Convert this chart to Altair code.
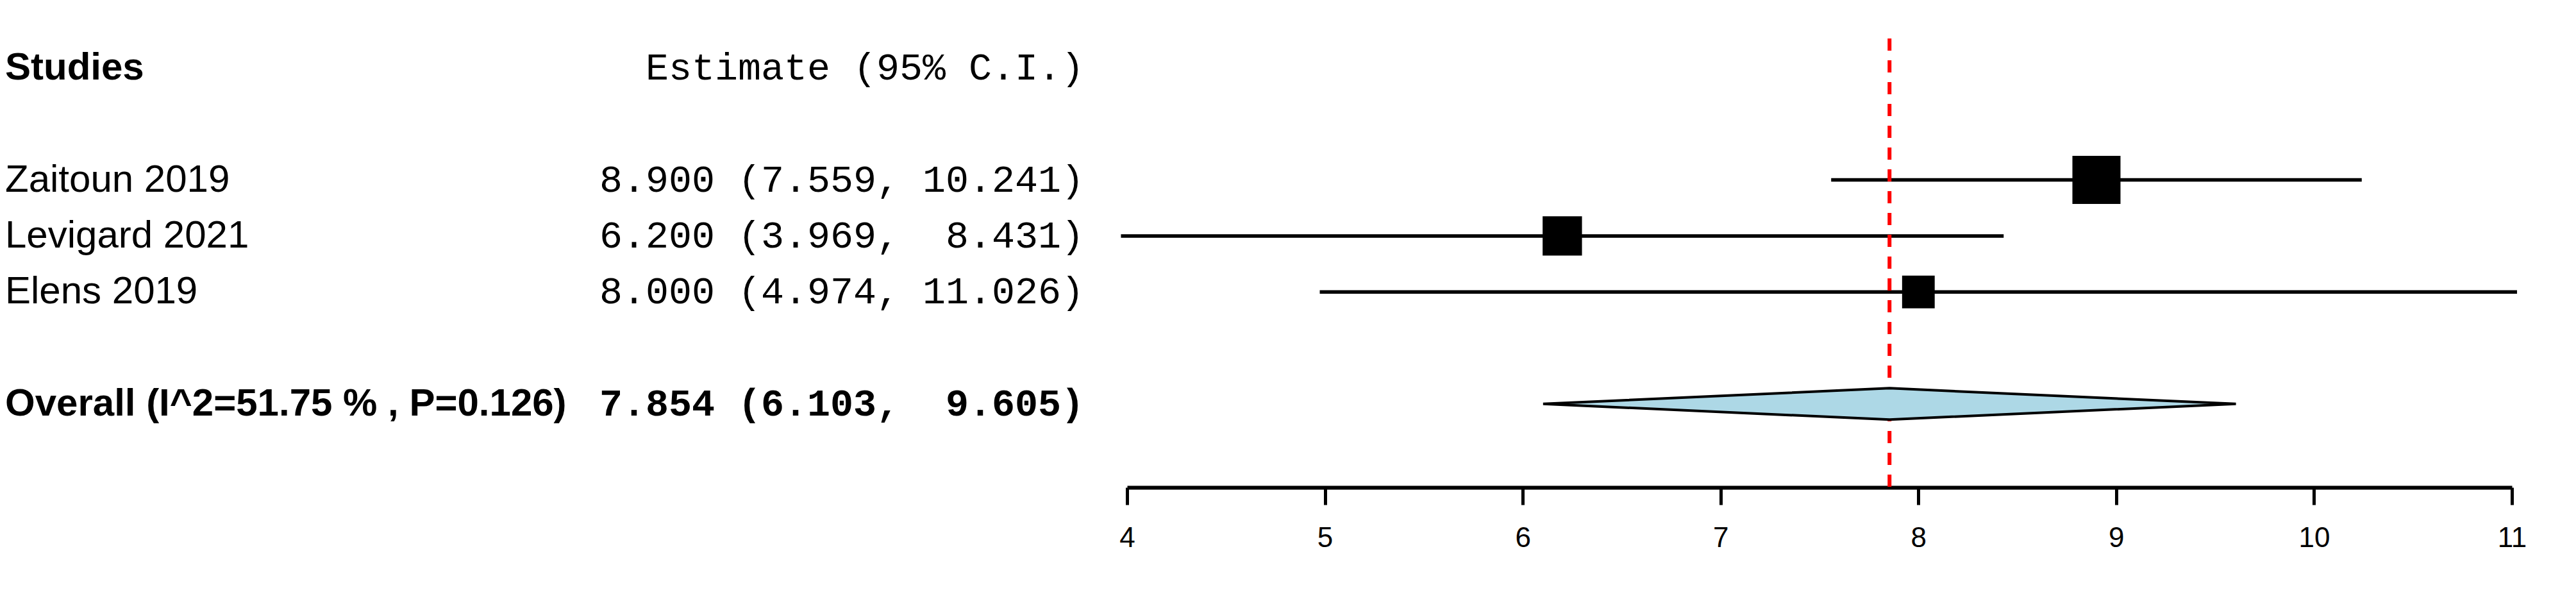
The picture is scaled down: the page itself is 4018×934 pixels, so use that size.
import altair as alt
import pandas as pd

# ---- data ----
studies = ["Zaitoun 2019", "Levigard 2021", "Elens 2019"]
estimates = [8.900, 6.200, 8.000]
lowers = [7.559, 3.969, 4.974]
uppers = [10.241, 8.431, 11.026]
weights = [1.0, 0.67, 0.46]          # relative (random-effects) weights -> square area
study_rows = [2, 3, 4]

overall_label = "Overall (I^2=51.75 % , P=0.126)"
overall_est = 7.854
overall_lo = 6.103
overall_hi = 9.605
overall_row = 6

header_left = "Studies"
header_right = "Estimate (95% C.I.)"
header_row = 0

x_ticks = [4, 5, 6, 7, 8, 9, 10, 11]

# ---- layout constants ----
W, H = 4000, 752
X_RANGE = [1750, 3910]
Y_DOMAIN = [-1.1226, 7.4914]
LINE_TOP = -0.527
DIAMOND_HALF = 0.28
NAME_X = 0
EST_X = 1683
FS = 60

def mono(s):
    return s.replace(" ", "\u00a0")

def fmt(e, l, u):
    return mono(f"{e:.3f} ({l:.3f}, {u:6.3f})")

xs = alt.Scale(domain=[4, 11], range=X_RANGE)
ys = alt.Scale(domain=Y_DOMAIN, range=[0, H])

df = pd.DataFrame({
    "study": studies, "est": estimates, "lo": lowers, "hi": uppers,
    "w": weights, "row": study_rows,
    "txt": [fmt(e, l, u) for e, l, u in zip(estimates, lowers, uppers)],
})

ci = alt.Chart(df).mark_rule(color="black", strokeWidth=5.5).encode(
    x=alt.X("lo:Q", scale=xs, axis=alt.Axis(
        values=x_ticks, format="d", title=None, grid=False, orient="bottom",
        domainColor="black", domainWidth=6, tickColor="black", tickWidth=5,
        tickSize=27, labelFont="Liberation Sans", labelFontSize=44,
        labelColor="black", labelPadding=30, labelFlush=False)),
    x2="hi:Q",
    y=alt.Y("row:Q", scale=ys, axis=None),
)

squares = alt.Chart(df).mark_square(color="black", opacity=1, filled=True).encode(
    x=alt.X("est:Q", scale=xs),
    y=alt.Y("row:Q", scale=ys),
    size=alt.Size("w:Q", scale=alt.Scale(domain=[0, 1], range=[0, 5625]), legend=None),
)

diamond_df = pd.DataFrame({
    "x": [overall_lo, overall_est, overall_hi],
    "y": [overall_row, overall_row - DIAMOND_HALF, overall_row],
    "y2": [overall_row, overall_row + DIAMOND_HALF, overall_row],
})
diamond = alt.Chart(diamond_df).mark_area(
    fill="#ADD8E6", stroke="black", strokeWidth=4, orient="vertical", opacity=1
).encode(
    x=alt.X("x:Q", scale=xs),
    y=alt.Y("y:Q", scale=ys),
    y2="y2:Q",
)

ref_df = pd.DataFrame({"x": [overall_est], "y": [LINE_TOP], "y2": [Y_DOMAIN[1]]})
refline = alt.Chart(ref_df).mark_rule(color="#FF0000", strokeWidth=6, strokeDash=[19, 15]).encode(
    x=alt.X("x:Q", scale=xs),
    y=alt.Y("y:Q", scale=ys),
    y2="y2:Q",
)

names = alt.Chart(df).mark_text(
    align="left", baseline="middle", font="Liberation Sans", fontSize=FS, color="black"
).encode(x=alt.value(NAME_X), y=alt.Y("row:Q", scale=ys), text="study:N")

vals = alt.Chart(df).mark_text(
    align="right", baseline="middle", font="Liberation Mono", fontSize=FS, color="black"
).encode(x=alt.value(EST_X), y=alt.Y("row:Q", scale=ys), text="txt:N")

bold_df = pd.DataFrame({"t": [header_left, overall_label], "row": [header_row, overall_row]})
bold_names = alt.Chart(bold_df).mark_text(
    align="left", baseline="middle", font="Liberation Sans", fontSize=FS,
    fontWeight="bold", color="black"
).encode(x=alt.value(NAME_X), y=alt.Y("row:Q", scale=ys), text="t:N")

hdr_df = pd.DataFrame({"t": [mono(header_right)], "row": [header_row]})
hdr = alt.Chart(hdr_df).mark_text(
    align="right", baseline="middle", font="Liberation Mono", fontSize=FS, color="black"
).encode(x=alt.value(EST_X), y=alt.Y("row:Q", scale=ys), text="t:N")

ov_df = pd.DataFrame({"t": [fmt(overall_est, overall_lo, overall_hi)], "row": [overall_row]})
ov = alt.Chart(ov_df).mark_text(
    align="right", baseline="middle", font="Liberation Mono", fontSize=FS,
    fontWeight="bold", color="black"
).encode(x=alt.value(EST_X), y=alt.Y("row:Q", scale=ys), text="t:N")

chart = alt.layer(ci, refline, squares, diamond, names, vals, bold_names, hdr, ov).properties(
    width=W, height=H, padding=0, background="white"
).configure_view(stroke=None)

chart.save("out.html", embed_options={"renderer": "svg", "actions": False})
